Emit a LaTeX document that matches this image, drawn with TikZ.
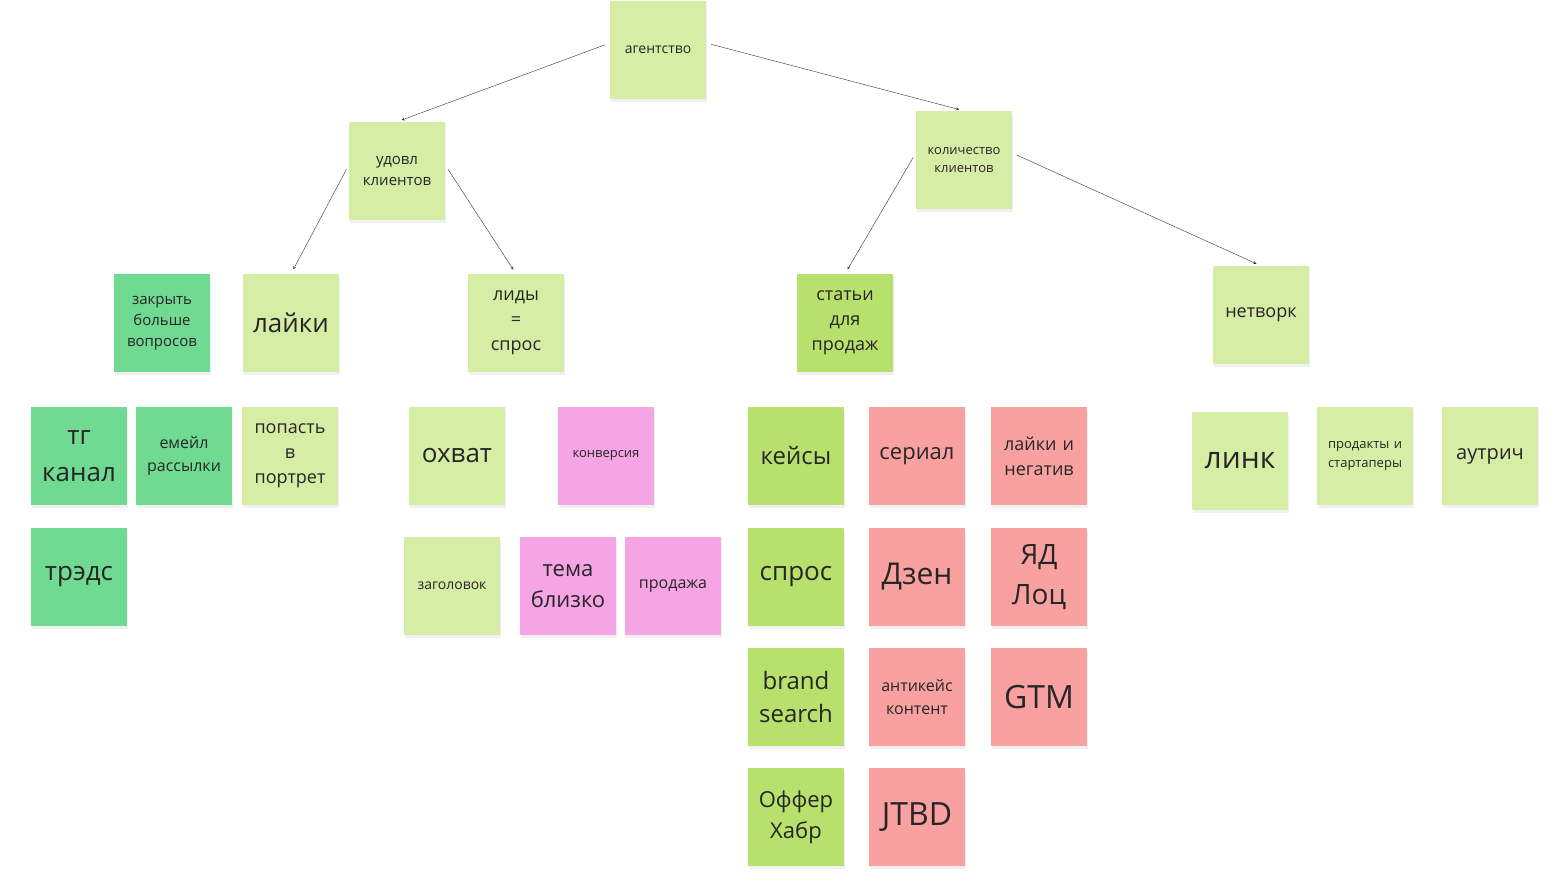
\documentclass[tikz,border=0pt]{standalone}
\usepackage{fontspec}
\setmainfont{Open Sans}
\usetikzlibrary{shadows}
\newcommand{\fs}[1]{\fontsize{#1}{\the\dimexpr #1pt*14/10\relax}\selectfont}
\definecolor{lightgreen}{HTML}{D6EDA6}
\definecolor{darkgreen}{HTML}{70D992}
\definecolor{limegreen}{HTML}{B7E06C}
\definecolor{salmon}{HTML}{F9A1A1}
\definecolor{pinky}{HTML}{F5A4E4}
\tikzset{
  sticky/.style={minimum width=96pt, minimum height=98pt, inner sep=2pt,
    align=center, text width=92pt, text=black!85,
    drop shadow={shadow xshift=1pt, shadow yshift=-3pt, opacity=0.12}},
  lg/.style={sticky, fill=lightgreen},
  dg/.style={sticky, fill=darkgreen},
  lm/.style={sticky, fill=limegreen},
  sa/.style={sticky, fill=salmon},
  pk/.style={sticky, fill=pinky},
  link/.style={->, >=stealth, thin, black!80, shorten <=5pt, shorten >=5pt}
}
\begin{document}
\begin{tikzpicture}[x=1pt,y=-1pt]
\useasboundingbox (0,0) rectangle (1560,896);

% top levels
\node[lg, font=\fs{14}] (ag) at (658,50) {агентство};
\node[lg, font=\fs{15}] (ud) at (397,171) {удовл\\клиентов};
\node[lg, font=\fs{13}] (kol) at (964,160) {количество\\клиентов};

% third row
\node[dg, font=\fs{15}] (zakr) at (162,323) {закрыть\\больше\\вопросов};
\node[lg, font=\fs{26}] (laik) at (291,323) {лайки};
\node[lg, font=\fs{18}] (lid) at (516,323) {лиды\\=\\спрос};
\node[lm, font=\fs{18}] (stat) at (845,323) {статьи\\для\\продаж};
\node[lg, font=\fs{18}] (net) at (1261,315) {нетворк};

% left group
\node[dg, font=\fs{26}] (tg) at (79,456) {тг\\канал};
\node[dg, font=\fs{16}] (em) at (184,456) {емейл\\рассылки};
\node[lg, font=\fs{18}] (pop) at (290,456) {попасть\\в\\портрет};
\node[dg, font=\fs{26}] (treds) at (79,577) {трэдс};

% leads group
\node[lg, font=\fs{26}] (ohv) at (457,456) {охват};
\node[pk, font=\fs{13}] (konv) at (606,456) {конверсия};
\node[lg, font=\fs{14}] (zag) at (452,586) {заголовок};
\node[pk, font=\fs{22}] (tema) at (568,586) {тема\\близко};
\node[pk, font=\fs{16}] (prod) at (673,586) {продажа};

% articles group
\node[lm, font=\fs{24}] (keis) at (796,456) {кейсы};
\node[sa, font=\fs{22}] (ser) at (917,456) {сериал};
\node[sa, font=\fs{18}] (lneg) at (1039,456) {лайки и\\негатив};
\node[lm, font=\fs{26}] (spr) at (796,577) {спрос};
\node[sa, font=\fs{30}] (dzen) at (917,577) {Дзен};
\node[sa, font=\fs{28}] (yad) at (1039,577) {ЯД\\Лоц};
\node[lm, font=\fs{24}] (brand) at (796,697) {brand\\search};
\node[sa, font=\fs{16}] (anti) at (917,697) {антикейс\\контент};
\node[sa, font=\fs{32}] (gtm) at (1039,697) {GTM};
\node[lm, font=\fs{22}] (off) at (796,817) {Оффер\\Хабр};
\node[sa, font=\fs{32}] (jtbd) at (917,817) {JTBD};

% network group
\node[lg, font=\fs{30}] (link) at (1240,461) {линк};
\node[lg, font=\fs{13}] (prst) at (1365,456) {продакты и\\стартаперы};
\node[lg, font=\fs{20}] (outr) at (1490,456) {аутрич};

% arrows
\draw[link] ([yshift=7pt]ag.west) -- (ud.north);
\draw[link] ([yshift=7pt]ag.east) -- (kol.north);
\draw[link] ([yshift=6pt]ud.west) -- (laik.north);
\draw[link] ([yshift=6pt]ud.east) -- (lid.north);
\draw[link] ([yshift=7pt]kol.west) -- (stat.north);
\draw[link] ([yshift=7pt]kol.east) -- (net.north);
\end{tikzpicture}
\end{document}
